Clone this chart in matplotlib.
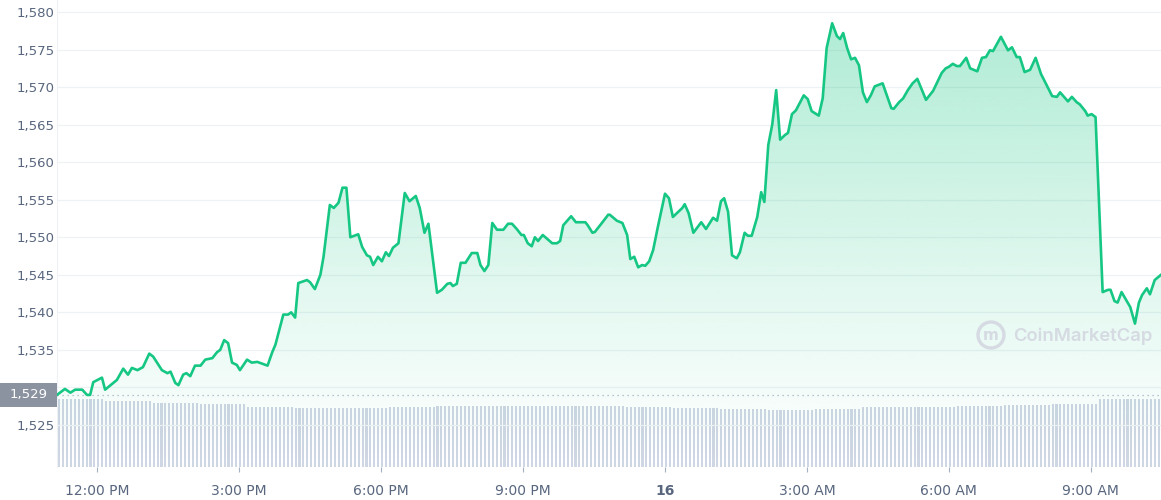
import numpy as np
import matplotlib
matplotlib.use("Agg")
import matplotlib.pyplot as plt
from matplotlib.patches import Circle, Rectangle

# price trace: (minutes relative to 12:00 PM, price)
price_points = [
    (-51, 1529.0), (-41, 1529.8), (-34, 1529.3), (-28, 1529.7), (-19, 1529.7), (-13, 1529.0),
    (-9, 1529.0), (-5, 1530.7), (6, 1531.3), (10, 1529.7), (25, 1531.0), (33, 1532.5),
    (39, 1531.7), (44, 1532.6), (51, 1532.3), (58, 1532.7), (66, 1534.5), (71, 1534.1),
    (82, 1532.3), (89, 1531.9), (93, 1532.1), (99, 1530.6), (103, 1530.3), (109, 1531.7),
    (113, 1531.9), (118, 1531.5), (124, 1532.9), (131, 1532.9), (137, 1533.7), (146, 1533.9),
    (152, 1534.7), (156, 1535.0), (161, 1536.3), (166, 1535.9), (171, 1533.3), (177, 1533.0),
    (181, 1532.3), (190, 1533.7), (196, 1533.3), (203, 1533.4), (216, 1532.9), (222, 1534.7),
    (226, 1535.7), (236, 1539.7), (242, 1539.7), (246, 1540.0), (251, 1539.3), (255, 1543.9),
    (266, 1544.3), (270, 1544.0), (276, 1543.1), (283, 1545.0), (287, 1547.4), (295, 1554.3),
    (300, 1553.9), (306, 1554.6), (311, 1556.6), (316, 1556.6), (321, 1550.0), (331, 1550.4),
    (336, 1548.7), (342, 1547.6), (346, 1547.4), (350, 1546.3), (356, 1547.4), (361, 1546.8),
    (366, 1548.0), (370, 1547.5), (375, 1548.6), (382, 1549.2), (390, 1555.9), (396, 1554.8),
    (404, 1555.5), (409, 1553.9), (415, 1550.6), (420, 1551.8), (431, 1542.6), (437, 1543.0),
    (444, 1543.8), (448, 1543.9), (451, 1543.5), (456, 1543.8), (461, 1546.6), (467, 1546.6),
    (475, 1547.9), (482, 1547.9), (486, 1546.3), (491, 1545.5), (496, 1546.3), (501, 1551.9),
    (507, 1551.0), (515, 1551.0), (521, 1551.8), (526, 1551.8), (532, 1551.1), (538, 1550.3),
    (541, 1550.3), (546, 1549.2), (551, 1548.8), (555, 1550.0), (559, 1549.5), (565, 1550.3),
    (577, 1549.2), (583, 1549.2), (587, 1549.5), (591, 1551.6), (601, 1552.8), (607, 1552.0),
    (619, 1552.0), (622, 1551.6), (628, 1550.6), (631, 1550.7), (640, 1551.9), (648, 1553.0),
    (650, 1553.0), (659, 1552.2), (666, 1551.9), (672, 1550.3), (676, 1547.1), (681, 1547.4),
    (686, 1546.0), (691, 1546.3), (695, 1546.2), (700, 1546.8), (705, 1548.3), (711, 1551.4),
    (720, 1555.8), (725, 1555.2), (730, 1552.7), (742, 1553.9), (745, 1554.4), (750, 1553.2),
    (756, 1550.6), (766, 1552.0), (772, 1551.1), (781, 1552.6), (786, 1552.2), (791, 1554.8),
    (795, 1555.2), (800, 1553.4), (805, 1547.6), (811, 1547.2), (815, 1548.0), (821, 1550.6),
    (825, 1550.2), (830, 1550.2), (837, 1552.7), (842, 1556.0), (846, 1554.7), (851, 1562.3),
    (856, 1565.0), (861, 1569.6), (866, 1563.0), (872, 1563.6), (876, 1563.9), (881, 1566.4),
    (886, 1566.9), (896, 1568.9), (901, 1568.4), (906, 1566.8), (915, 1566.2), (920, 1568.5),
    (925, 1575.2), (932, 1578.5), (938, 1576.8), (942, 1576.4), (946, 1577.2), (951, 1575.2),
    (956, 1573.7), (961, 1573.9), (966, 1572.9), (971, 1569.3), (976, 1568.0), (981, 1568.9),
    (986, 1570.1), (991, 1570.3), (996, 1570.5), (1007, 1567.2), (1010, 1567.1), (1017, 1568.0),
    (1022, 1568.5), (1028, 1569.6), (1034, 1570.5), (1040, 1571.1), (1051, 1568.3), (1060, 1569.5),
    (1071, 1571.9), (1076, 1572.5), (1080, 1572.7), (1085, 1573.1), (1090, 1572.8), (1094, 1572.8),
    (1102, 1573.9), (1107, 1572.5), (1116, 1572.1), (1122, 1573.9), (1127, 1574.0), (1132, 1574.9),
    (1136, 1574.8), (1146, 1576.7), (1155, 1574.9), (1160, 1575.3), (1166, 1574.0), (1170, 1574.0),
    (1176, 1572.0), (1183, 1572.3), (1190, 1573.9), (1197, 1571.7), (1199, 1571.3), (1211, 1568.8),
    (1217, 1568.7), (1221, 1569.3), (1231, 1568.1), (1236, 1568.7), (1242, 1568.0), (1246, 1567.7),
    (1253, 1566.8), (1256, 1566.2), (1261, 1566.4), (1266, 1566.0), (1275, 1542.7), (1282, 1543.0),
    (1285, 1543.0), (1290, 1541.5), (1294, 1541.3), (1299, 1542.7), (1310, 1540.7), (1316, 1538.5),
    (1321, 1541.3), (1325, 1542.3), (1331, 1543.2), (1335, 1542.4), (1341, 1544.3), (1349, 1545.0),
]

# hourly volume level (billions), each hour shown as 12 five-minute bars
hourly_volume = [6.8, 6.6, 6.4, 6.3, 6.0, 5.9, 5.9, 6.0, 6.1, 6.1, 6.1, 6.1,
                 6.0, 5.9, 5.8, 5.7, 5.8, 6.0, 6.0, 6.1, 6.2, 6.3, 6.8, 6.8]

open_price = 1529
tick_minutes = [0, 180, 360, 540, 720, 900, 1080, 1260]
tick_labels = ["12:00 PM", "3:00 PM", "6:00 PM", "9:00 PM", "16", "3:00 AM", "6:00 AM", "9:00 AM"]
y_ticks = [1525, 1530, 1535, 1540, 1545, 1550, 1555, 1560, 1565, 1570, 1575, 1580]

t = np.array([p[0] for p in price_points], dtype=float)
price = np.array([p[1] for p in price_points])

green = "#16c784"
label_color = "#58667e"

fig = plt.figure(figsize=(11.61, 5.0), dpi=100)
ax = fig.add_axes([57 / 1161, 33 / 500, 1104 / 1161, 467 / 500])
ax2 = ax.twinx()
ax2.set_zorder(0)
ax.set_zorder(1)
ax.patch.set_visible(False)

xmin, xmax = -51, 1349
ymin, ymax = 1519.4, 1581.6

# volume bars
bar_t = np.arange(xmin, xmax, 5) + 2.5
bar_v = np.array([hourly_volume[min(i // 12, len(hourly_volume) - 1)] for i in range(len(bar_t))])
ax2.bar(bar_t, bar_v, width=2.6, color="#cfd6e4", linewidth=0)
ax2.set_ylim(0, max(hourly_volume) * 6.85)
ax2.axis("off")

# gradient fill under price line
grad = np.linspace(0.0, 1.0, 256).reshape(-1, 1)
rgba = np.zeros((256, 1, 4))
rgba[..., 0] = 22 / 255
rgba[..., 1] = 199 / 255
rgba[..., 2] = 132 / 255
rgba[..., 3] = 0.34 * grad[:, 0:1] ** 1.1
img = ax.imshow(rgba, extent=[xmin, xmax, ymin, price.max()], origin="lower",
                aspect="auto", zorder=1, interpolation="bilinear")
poly = ax.fill_between(t, price, ymin, color="none", linewidth=0)
img.set_clip_path(poly.get_paths()[0], transform=ax.transData)

ax.plot(t, price, color=green, linewidth=1.9, zorder=3, solid_joinstyle="round")

# open price reference line
ax.axhline(open_price, color="#a6b0c3", linewidth=0.9, linestyle=(0, (1, 3)), zorder=2)

ax.set_xlim(xmin, xmax)
ax.set_ylim(ymin, ymax)

ax.set_yticks(y_ticks)
ax.set_yticklabels([f"{v:,}" for v in y_ticks])
ax.grid(axis="y", color="#eff2f5", linewidth=0.9)
ax.set_axisbelow(True)
ax.tick_params(axis="y", length=0, labelsize=9.5, labelcolor=label_color, pad=2)

ax.set_xticks(tick_minutes)
ax.set_xticklabels(tick_labels)
ax.tick_params(axis="x", length=3.5, width=0.8, color="#a6b0c3", labelsize=10,
               labelcolor=label_color, pad=9)
for lbl in ax.get_xticklabels():
    if lbl.get_text() == "16":
        lbl.set_fontweight("bold")

for side in ["top", "right", "bottom"]:
    ax.spines[side].set_visible(False)
ax.spines["left"].set_color("#eff2f5")

# open price label box at the left edge, level with the open price
y_open = ax.transData.transform((0, open_price))[1] / fig.dpi
fig.patches.append(Rectangle((0, y_open - 0.12), 0.57, 0.24, transform=fig.dpi_scale_trans,
                             facecolor="#8c93a0", edgecolor="none", zorder=10))
fig.text(0.285 / 11.61, y_open / 5.0, f"{open_price:,}", ha="center", va="center",
         fontsize=9.5, color="white", zorder=11)

# watermark
wm_color = "#d6dae2"
fig.text(1083 / 1161, 1 - 336 / 500, "CoinMarketCap", ha="center", va="center",
         fontsize=13.3, color=wm_color, fontweight="semibold", family="Inter")
fig.patches.append(Circle((9.91, 1.65), 0.13, transform=fig.dpi_scale_trans,
                          fill=False, edgecolor=wm_color, linewidth=2.4))
fig.text(991 / 1161, 1 - 336 / 500, "m", ha="center", va="center", fontsize=11,
         color=wm_color, fontweight="bold")

fig.savefig("out.png", dpi=100)
